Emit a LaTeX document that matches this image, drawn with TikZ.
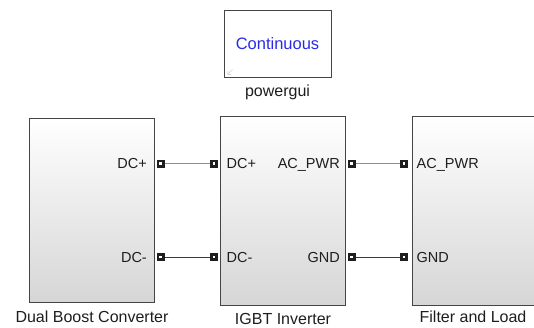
\documentclass[tikz,border=0pt]{standalone}
\usepackage{fontspec}
\setmainfont{Liberation Sans}
\usepackage{xcolor}
\usepackage{tikz}
\usetikzlibrary{positioning,shadows}
\definecolor{Ink}{HTML}{1E1E1E}
\definecolor{Edge}{HTML}{454545}
\definecolor{Fade}{HTML}{D6D6D6}
\definecolor{WireLight}{HTML}{8E8E8E}
\definecolor{WireDark}{HTML}{3A3A3A}
\definecolor{GuiBlue}{HTML}{2B2BE6}

\begin{document}
\begin{tikzpicture}[x=1pt,y=-1pt,
  block/.style={draw=Edge,line width=0.9pt,top color=white,bottom color=Fade,inner sep=0pt,
    drop shadow={shadow xshift=1.3pt,shadow yshift=-1.3pt,opacity=0.35}},
  port/.style={draw=Ink,fill=white,line width=2.8pt,minimum size=5.2pt,inner sep=0pt},
  portlbl/.style={font=\fontsize{14.5}{17}\selectfont,text=Ink,inner sep=0pt},
  title/.style={font=\fontsize{16}{19}\selectfont,text=Ink,inner sep=0pt,anchor=base}]
  \useasboundingbox (0,0) rectangle (534,327);
  \node[draw=Edge,line width=0.9pt,fill=white,inner sep=0pt,minimum width=107pt,minimum height=67pt,
    drop shadow={shadow xshift=1.3pt,shadow yshift=-1.3pt,opacity=0.35},
    font=\fontsize{16.5}{19}\selectfont,text=GuiBlue] (gui) at (277.5,43.5) {Continuous};
  \draw[gray!35,line width=0.6pt] (227.5,74.5) -- (232.5,69.5) (228,71) -- (228,74.5) -- (231,74.5);
  \node[title] (guiname) at (277.5,96.5) {powergui};

  \node[block,minimum width=125pt,minimum height=184pt] (dbc) at (91.5,210) {};
  \node[block,minimum width=125pt,minimum height=189pt] (inv) at (282.5,210.5) {};
  \node[block,minimum width=123pt,minimum height=189pt] (fil) at (473.5,210.5) {};
  \node[title] (dbcname) at (92,322) {Dual Boost Converter};
  \node[title] (invname) at (283,324) {IGBT Inverter};
  \node[title] (filname) at (473,322) {Filter and Load};

  \node[port] (dbcp) at (160.5,163.5) {};
  \node[port] (dbcm) at (160.5,257) {};
  \node[port] (invp) at (214,163.5) {};
  \node[port] (invm) at (214,257) {};
  \node[port] (invac) at (351.5,163.5) {};
  \node[port] (invgnd) at (351.5,257) {};
  \node[port] (filac) at (404,163.5) {};
  \node[port] (filgnd) at (404,257) {};

  \node[portlbl,anchor=base east] (dbcpl) at (147,168.5) {DC+};
  \node[portlbl,anchor=base east] (dbcml) at (147,262) {DC-};
  \node[portlbl,anchor=base west] (invpl) at (226.5,168.5) {DC+};
  \node[portlbl,anchor=base west] (invml) at (226.5,262) {DC-};
  \node[portlbl,anchor=base east] (invacl) at (340,168.5) {AC\_PWR};
  \node[portlbl,anchor=base east] (invgndl) at (340,262) {GND};
  \node[portlbl,anchor=base west] (filacl) at (416.5,168.5) {AC\_PWR};
  \node[portlbl,anchor=base west] (filgndl) at (416.5,262) {GND};

  \foreach \a/\b in {dbcp/invp,invac/filac}
    \draw[WireLight,line width=0.8pt] (\a) -- (\b);
  \foreach \a/\b in {dbcm/invm,invgnd/filgnd}
    \draw[WireDark,line width=0.8pt] (\a) -- (\b);
\end{tikzpicture}
\end{document}
